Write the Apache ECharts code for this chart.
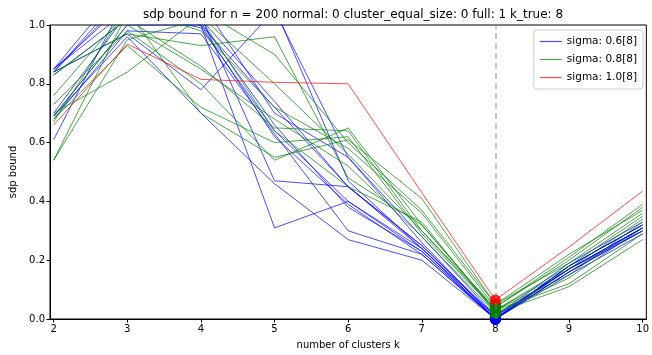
<!DOCTYPE html>
<html>
<head>
<meta charset="utf-8">
<script src="https://cdn.jsdelivr.net/npm/echarts@6/dist/echarts.min.js"></script>
<style>
  html, body { margin: 0; padding: 0; background: #fff; }
  #chart { width: 652px; height: 355px; }
</style>
</head>
<body>
<div id="chart"></div>
<script>
// number of clusters k
const ks = [2, 3, 4, 5, 6, 7, 8, 9, 10];
const yTicks = [0, 0.2, 0.4, 0.6, 0.8, 1.0];

// sigma 0.6
const blueRuns = [
  [0.85, 1.08, 1.02, 0.74, 0.45, 0.25, 0.005, 0.17, 0.31],
  [0.85, 1.05, 0.99, 0.64, 0.40, 0.24, 0.00, 0.18, 0.32],
  [0.84, 1.12, 1.00, 0.62, 0.39, 0.22, 0.00, 0.16, 0.30],
  [0.84, 0.97, 0.78, 1.05, 0.55, 0.28, 0.01, 0.19, 0.33],
  [0.83, 1.02, 1.03, 0.47, 0.45, 0.24, 0.00, 0.17, 0.31],
  [0.69, 1.00, 1.00, 0.31, 0.40, 0.23, 0.00, 0.16, 0.30],
  [0.69, 0.96, 0.70, 0.46, 0.27, 0.20, 0.00, 0.15, 0.29],
  [0.68, 0.98, 0.97, 0.63, 0.30, 0.22, 0.00, 0.18, 0.32],
  [0.61, 1.10, 1.00, 0.72, 0.45, 0.25, 0.01, 0.17, 0.30],
  [0.70, 1.04, 1.01, 0.66, 0.38, 0.23, 0.00, 0.16, 0.31],
  [0.84, 1.10, 1.08, 0.70, 0.55, 0.26, 0.00, 0.18, 0.32],
  [0.85, 1.15, 1.05, 1.06, 0.47, 0.24, 0.01, 0.17, 0.31]
];

// sigma 0.8
const greenRuns = [
  [0.84, 0.97, 0.93, 0.96, 0.48, 0.32, 0.03, 0.18, 0.35],
  [0.83, 1.02, 0.86, 0.65, 0.64, 0.30, 0.04, 0.20, 0.38],
  [0.76, 1.05, 0.70, 0.55, 0.61, 0.41, 0.05, 0.19, 0.36],
  [0.73, 0.98, 0.80, 0.54, 0.65, 0.32, 0.03, 0.15, 0.33],
  [0.70, 0.84, 1.03, 0.80, 0.56, 0.30, 0.03, 0.12, 0.29],
  [0.69, 1.00, 0.85, 0.68, 0.52, 0.28, 0.02, 0.14, 0.31],
  [0.67, 1.06, 0.98, 0.72, 0.58, 0.36, 0.04, 0.21, 0.39],
  [0.54, 0.95, 1.02, 0.64, 0.45, 0.33, 0.02, 0.11, 0.27],
  [0.54, 1.04, 1.05, 0.90, 0.60, 0.37, 0.05, 0.22, 0.37],
  [0.68, 0.93, 0.72, 0.60, 0.62, 0.29, 0.03, 0.17, 0.34]
];

// sigma 1.0
const redRuns = [
  [0.66, 0.935, 0.815, 0.805, 0.80, 0.43, 0.065, 0.245, 0.435]
];

const kTrue = 8;

const groups = [
  { name: 'sigma: 0.6[8]', color: '#0000ff', runs: blueRuns },
  { name: 'sigma: 0.8[8]', color: '#008000', runs: greenRuns },
  { name: 'sigma: 1.0[8]', color: '#ff0000', runs: redRuns }
];

const series = [];
groups.forEach(function (g) {
  g.runs.forEach(function (r) {
    series.push({
      type: 'line',
      name: g.name,
      data: r.map(function (v, i) { return [ks[i], v]; }),
      symbol: 'none',
      lineStyle: { color: g.color, width: 1, opacity: 0.7 },
      itemStyle: { color: g.color },
      silent: true
    });
  });
});
groups.forEach(function (g) {
  series.push({
    type: 'scatter',
    name: g.name + ' min',
    data: g.runs.map(function (r) { return [kTrue, r[ks.indexOf(kTrue)]]; }),
    symbolSize: 11,
    itemStyle: { color: g.color, opacity: 0.9 },
    silent: true,
    z: 3
  });
});
series.push({
  type: 'line',
  name: 'ktrue',
  data: [],
  markLine: {
    silent: true,
    symbol: 'none',
    label: { show: false },
    lineStyle: { color: 'rgba(128,128,128,0.45)', width: 2, type: [6, 4] },
    data: [{ xAxis: kTrue }]
  }
});

const chart = echarts.init(document.getElementById('chart'));
chart.setOption({
  animation: false,
  textStyle: { fontFamily: 'DejaVu Sans' },
  title: {
    text: 'sdp bound for n = 200 normal: 0 cluster_equal_size: 0 full: 1 k_true: 8',
    left: 348,
    textAlign: 'center',
    top: 4,
    textStyle: { fontSize: 12, fontWeight: 'normal', color: '#000', fontFamily: 'DejaVu Sans' }
  },
  legend: {
    orient: 'vertical',
    right: 9,
    top: 30,
    itemWidth: 22,
    itemHeight: 1.2,
    itemGap: 7,
    padding: [6, 6, 6, 6],
    borderColor: '#ccc',
    borderWidth: 1,
    borderRadius: 3,
    backgroundColor: 'rgba(255,255,255,0.8)',
    icon: 'rect',
    textStyle: { fontSize: 10.5, color: '#000', fontFamily: 'DejaVu Sans' },
    data: groups.map(function (g) {
      return { name: g.name, itemStyle: { color: g.color, opacity: 0.7 } };
    })
  },
  grid: {
    left: 47, right: 3, top: 25, bottom: 32,
    show: true, borderColor: '#000', borderWidth: 1, backgroundColor: 'transparent'
  },
  xAxis: {
    type: 'value',
    min: 1.95,
    max: 10.05,
    name: 'number of clusters k',
    nameLocation: 'middle',
    nameGap: 21,
    nameTextStyle: { fontSize: 10, color: '#000' },
    axisLine: { show: true, lineStyle: { color: '#000', width: 1 } },
    axisTick: { show: true, length: 3.5, lineStyle: { color: '#000' }, customValues: ks },
    axisLabel: { color: '#000', fontSize: 10, margin: 5, customValues: ks },
    splitLine: { show: false }
  },
  yAxis: {
    type: 'value',
    min: 0,
    max: 1,
    interval: 0.2,
    name: 'sdp bound',
    nameLocation: 'middle',
    nameGap: 32,
    nameTextStyle: { fontSize: 10, color: '#000' },
    axisLine: { show: true, lineStyle: { color: '#000', width: 1 } },
    axisTick: { show: true, length: 3.5, lineStyle: { color: '#000' } },
    axisLabel: {
      color: '#000', fontSize: 10, margin: 5,
      formatter: function (v) { return v.toFixed(1); }
    },
    splitLine: { show: false }
  },
  series: series
});
</script>
</body>
</html>
